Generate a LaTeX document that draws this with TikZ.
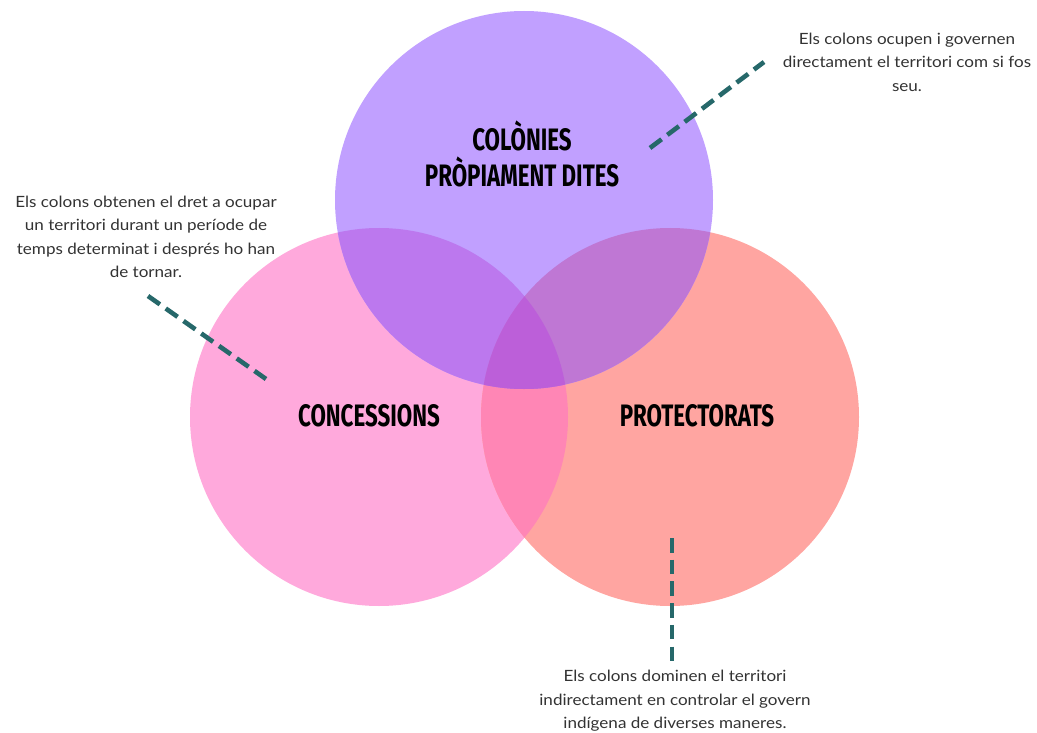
\documentclass[tikz,border=0pt]{standalone}
\usepackage{fontspec}
\setmainfont[FakeStretch=1.1]{Lato}
\newfontfamily\titlefont[FakeStretch=0.72]{Fira Sans}
\definecolor{cpur}{HTML}{C1A0FF}
\definecolor{cpink}{HTML}{FFA9DC}
\definecolor{csal}{HTML}{FFA5A1}
\definecolor{cpurpink}{HTML}{BC78EE}
\definecolor{cpursal}{HTML}{BF77D4}
\definecolor{cpinksal}{HTML}{FF86B5}
\definecolor{call}{HTML}{BC5FD9}
\definecolor{cdash}{HTML}{26686A}
\definecolor{ctext}{HTML}{333333}
\begin{document}
\begin{tikzpicture}[x=1pt,y=-1pt,
  title/.style={font=\titlefont\bfseries\fontsize{31}{35.5}\selectfont, align=center, text=black, inner sep=0},
  note/.style={font=\fontsize{15.5}{23.5}\selectfont, align=center, text=ctext, inner sep=0},
  leader/.style={draw=cdash, line width=4.6pt, dash pattern=on 14.5pt off 7.2pt}]
\useasboundingbox (0,0) rectangle (1037,733);
\fill[white] (0,0) rectangle (1037,733);
\def\purc{(524,200) circle (189)}
\def\pinkc{(379,417) circle (189)}
\def\salc{(670,417) circle (189)}
\fill[cpink] \pinkc;
\fill[csal] \salc;
\fill[cpur] \purc;
\begin{scope}\clip \pinkc; \fill[cpinksal] \salc; \end{scope}
\begin{scope}\clip \pinkc; \fill[cpurpink] \purc; \end{scope}
\begin{scope}\clip \salc; \fill[cpursal] \purc; \end{scope}
\begin{scope}\clip \pinkc; \clip \salc; \fill[call] \purc; \end{scope}

\node[title] (tcol) at (522,154) {COLÒNIES\\PRÒPIAMENT DITES};
\node[title] (tcon) at (369,416) {CONCESSIONS};
\node[title] (tpro) at (697,416) {PROTECTORATS};

\node[note] (n1) at (907,62) {Els colons ocupen i governen\\directament el territori com si fos\\seu.};
\node[note] (n2) at (146,237) {Els colons obtenen el dret a ocupar\\un territori durant un període de\\temps determinat i després ho han\\de tornar.};
\node[note] (n3) at (675,701) {Els colons dominen el territori\\indirectament en controlar el govern\\indígena de diverses maneres.};

\coordinate (a1) at (650,148); \coordinate (a2) at (764,62);
\coordinate (b1) at (148,296); \coordinate (b2) at (266,379);
\coordinate (c1) at (672,538); \coordinate (c2) at (672,661);
\draw[leader] (a1) -- (a2);
\draw[leader] (b1) -- (b2);
\draw[leader] (c1) -- (c2);
\end{tikzpicture}
\end{document}
